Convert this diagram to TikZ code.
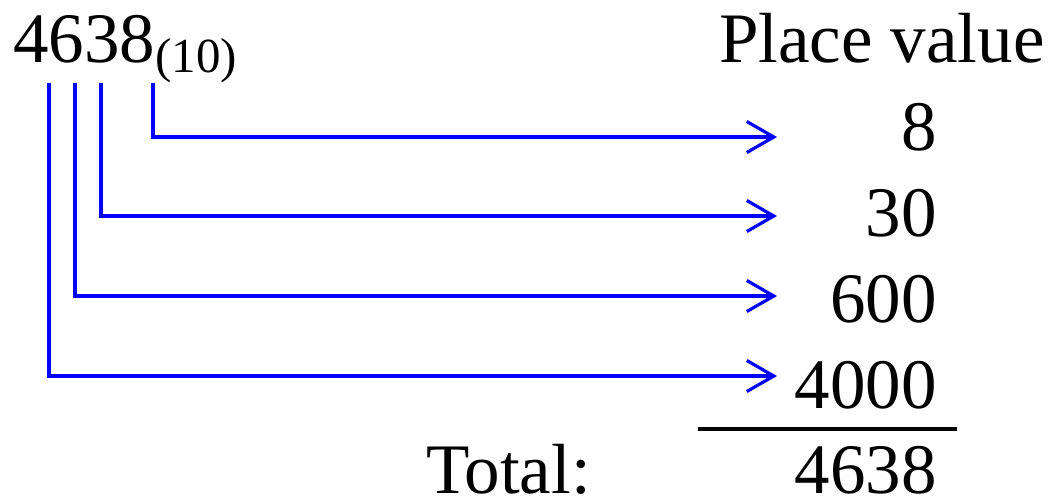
\documentclass[tikz,border=0pt]{standalone}
\usepackage{fontspec}
\setmainfont{Liberation Serif}
\usetikzlibrary{arrows.meta}
\begin{document}
\begin{tikzpicture}[x=1pt,y=-1pt,
  big/.style={inner sep=0pt,font=\fontsize{71}{80}\selectfont},
  num/.style={big,anchor=base east},
  link/.style={draw=blue,line width=3.2pt,
    -{Straight Barb[length=27pt,width=31pt,line width=3.2pt]}},
  rule/.style={draw=black,line width=3.4pt}]
\useasboundingbox (0,0) rectangle (1056,498);

% number being expanded and column heading
\node[big,anchor=base west] (num) at (13,62)
  {4638\raisebox{-10pt}{\fontsize{49}{55}\selectfont(10)}};
\node[big,anchor=base west] (head) at (719,62) {Place value};

% place values, right aligned
\node[num] (ones)      at (937,150) {8};
\node[num] (tens)      at (937,236) {30};
\node[num] (hundreds)  at (937,322) {600};
\node[num] (thousands) at (937,408) {4000};

% sum
\node[big,anchor=base west] (totlabel) at (426,493) {Total:};
\node[num] (total) at (937,493) {4638};
\coordinate (rl) at (698,429);
\coordinate (rr) at (957,429);
\draw[rule] (rl) -- (rr);

% starting points under the digits
\coordinate (s4) at (49,83);
\coordinate (s3) at (75,83);
\coordinate (s2) at (101,83);
\coordinate (s1) at (153,83);

% arrow tips in front of the place values
\coordinate (t1) at (777,137);
\coordinate (t2) at (777,216);
\coordinate (t3) at (777,296);
\coordinate (t4) at (777,376);

\draw[link] (s1) |- (t1);
\draw[link] (s2) |- (t2);
\draw[link] (s3) |- (t3);
\draw[link] (s4) |- (t4);
\end{tikzpicture}
\end{document}
